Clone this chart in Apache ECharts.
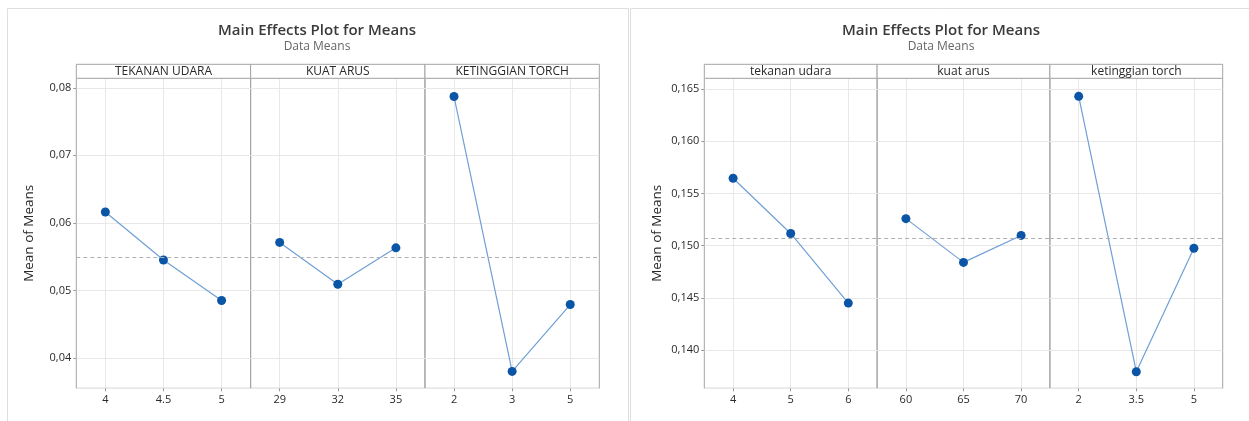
<!DOCTYPE html>
<html>
<head>
<meta charset="utf-8">
<script src="https://cdn.jsdelivr.net/npm/echarts@6/dist/echarts.min.js"></script>
<style>
html,body{margin:0;padding:0;background:#fff;}
#chart{width:1249px;height:421px;}
</style>
</head>
<body>
<div id="chart"></div>
<script>
// ---- data ----
const chartTitle = 'Main Effects Plot for Means';
const chartSubtitle = 'Data Means';
const yAxisTitle = 'Mean of Means';

const leftFactors = ['TEKANAN UDARA', 'KUAT ARUS', 'KETINGGIAN TORCH'];
const leftLevels = [['4', '4.5', '5'], ['29', '32', '35'], ['2', '3', '5']];
const leftTekanan = [0.0616, 0.0545, 0.0485];
const leftKuat = [0.0571, 0.0509, 0.0563];
const leftTinggi = [0.0787, 0.0380, 0.0479];
const leftYRange = [0.0355, 0.0814];

const rightFactors = ['tekanan udara', 'kuat arus', 'ketinggian torch'];
const rightLevels = [['4', '5', '6'], ['60', '65', '70'], ['2', '3.5', '5']];
const rightTekanan = [0.15645, 0.15116, 0.14449];
const rightKuat = [0.15258, 0.14839, 0.15097];
const rightTinggi = [0.16429, 0.13792, 0.14974];
const rightYRange = [0.13633, 0.16602];

// ---- layout ----
const FONT = '"Open Sans", "Noto Sans", sans-serif';
const charts = [
  {factors: leftFactors, levels: leftLevels, values: [leftTekanan, leftKuat, leftTinggi],
   yRange: leftYRange, decimals: 2, plotLeft: 76.3, plotRight: 599.3, cardX: 7, cardW: 621, centerX: 317},
  {factors: rightFactors, levels: rightLevels, values: [rightTekanan, rightKuat, rightTinggi],
   yRange: rightYRange, decimals: 3, plotLeft: 704.3, plotRight: 1222.7, cardX: 630, cardW: 640, centerX: 941}
];
const plotTop = 78.3, plotBottom = 388.3, stripTop = 64.3;

const grids = [], xAxes = [], yAxes = [], series = [], graphics = [];

charts.forEach((c, ci) => {
  graphics.push({type: 'rect', shape: {x: c.cardX + 0.5, y: 8.5, width: c.cardW, height: 440},
    style: {fill: '#fff', stroke: '#dedede', lineWidth: 1}, z: -10});
  graphics.push({type: 'text', x: c.centerX, y: 31, z: 10,
    style: {text: chartTitle, font: '600 15px ' + FONT, fill: '#3a3a3a', textAlign: 'center', textVerticalAlign: 'middle', align: 'center', verticalAlign: 'middle'}});
  graphics.push({type: 'text', x: c.centerX, y: 47, z: 10,
    style: {text: chartSubtitle, font: '12px ' + FONT, fill: '#666', textAlign: 'center', textVerticalAlign: 'middle', align: 'center', verticalAlign: 'middle'}});

  const all = [].concat(...c.values);
  const grand = all.reduce((a, b) => a + b, 0) / all.length;
  const pw = (c.plotRight - c.plotLeft) / c.factors.length;

  c.factors.forEach((f, fi) => {
    const idx = grids.length;
    const left = c.plotLeft + fi * pw;
    grids.push({left: left, width: pw, top: plotTop, height: plotBottom - plotTop,
      show: true, borderColor: '#a3a3a3', borderWidth: 1, backgroundColor: 'transparent', containLabel: false});
    graphics.push({type: 'rect', shape: {x: left, y: stripTop, width: pw, height: plotTop - stripTop},
      style: {fill: '#fff', stroke: '#a3a3a3', lineWidth: 1}, z: 5});
    graphics.push({type: 'text', x: left + pw / 2, y: (stripTop + plotTop) / 2 + 0.5, z: 6,
      style: {text: f, font: '12px ' + FONT, fill: '#2a2a2a', textAlign: 'center', textVerticalAlign: 'middle', align: 'center', verticalAlign: 'middle'}});

    const padded = [''];
    c.levels[fi].forEach(l => { padded.push(l); padded.push(''); });
    const odd = (i) => i % 2 === 1;
    xAxes.push({type: 'category', gridIndex: idx, data: padded, boundaryGap: false,
      axisLine: {show: false},
      axisTick: {show: true, interval: odd, length: 3, lineStyle: {color: '#999'}},
      axisLabel: {interval: odd, color: '#2a2a2a', fontSize: 11, fontFamily: FONT, margin: 6},
      splitLine: {show: true, interval: odd, lineStyle: {color: '#e8e8e8', width: 1}}});
    yAxes.push({type: 'value', gridIndex: idx, min: c.yRange[0], max: c.yRange[1], splitNumber: 5,
      name: fi === 0 ? yAxisTitle : '', nameLocation: 'middle', nameRotate: 90, nameGap: 40,
      nameTextStyle: {color: '#2a2a2a', fontSize: 13.5, fontFamily: FONT},
      axisLine: {show: false},
      axisTick: {show: fi === 0, length: 3, lineStyle: {color: '#999'}},
      axisLabel: {show: fi === 0, showMinLabel: false, showMaxLabel: false, color: '#2a2a2a', fontSize: 11, fontFamily: FONT, margin: 5,
        formatter: v => v.toFixed(c.decimals).replace('.', ',')},
      splitLine: {show: true, lineStyle: {color: '#e8e8e8', width: 1}}});
    series.push({type: 'line', xAxisIndex: idx, yAxisIndex: idx,
      data: c.values[fi].map((v, i) => [2 * i + 1, v]),
      symbol: 'circle', symbolSize: 9,
      lineStyle: {color: '#6f9fd6', width: 1.2},
      itemStyle: {color: '#0b55a6'},
      animation: false, z: 3,
      markLine: {silent: true, symbol: 'none', precision: 8, label: {show: false},
        lineStyle: {color: '#b0b0b0', type: [4, 3], width: 1},
        data: [{yAxis: grand}]}});
  });
});

const chart = echarts.init(document.getElementById('chart'), null, {renderer: 'canvas'});
chart.setOption({
  animation: false,
  backgroundColor: '#fff',
  grid: grids, xAxis: xAxes, yAxis: yAxes, series: series,
  graphic: graphics
});
</script>
</body>
</html>
